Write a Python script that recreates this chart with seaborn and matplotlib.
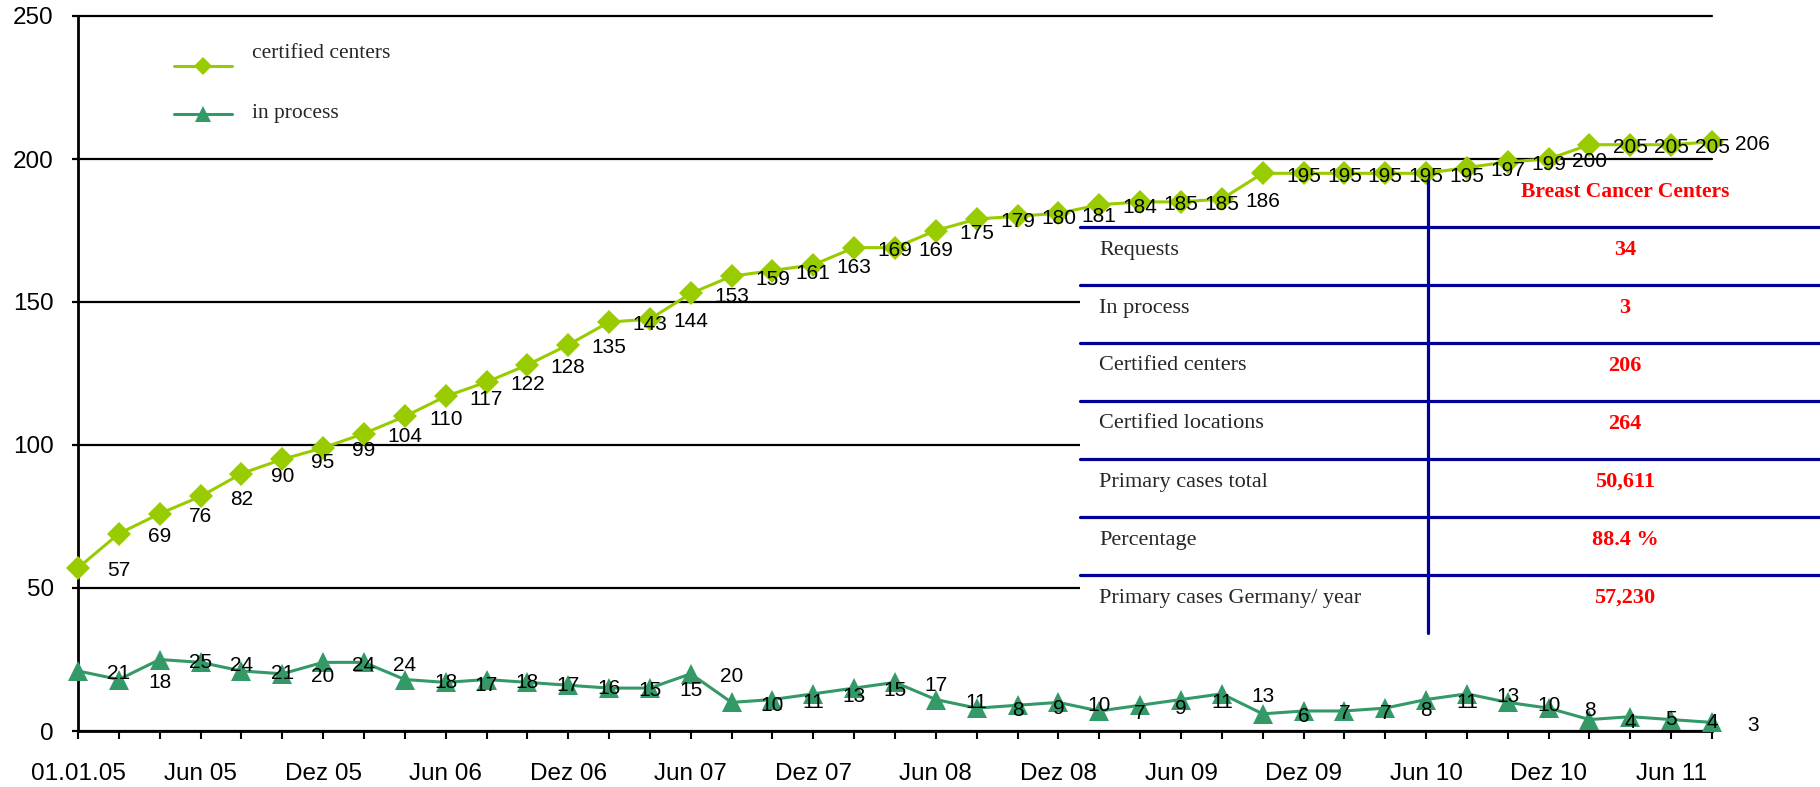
import matplotlib
matplotlib.use("Agg")
import matplotlib.pyplot as plt
from matplotlib.lines import Line2D
from matplotlib.patches import Rectangle
import seaborn as sns
import pandas as pd

# Monthly-ish reporting points, Jan 2005 to Jun 2011
certified = [57, 69, 76, 82, 90, 95, 99, 104, 110, 117, 122, 128, 135, 143, 144,
             153, 159, 161, 163, 169, 169, 175, 179, 180, 181, 184, 185, 185, 186,
             195, 195, 195, 195, 195, 197, 199, 200, 205, 205, 205, 206]
in_process = [21, 18, 25, 24, 21, 20, 24, 24, 18, 17, 18, 17, 16, 15, 15,
              20, 10, 11, 13, 15, 17, 11, 8, 9, 10, 7, 9, 11, 13,
              6, 7, 7, 8, 11, 13, 10, 8, 4, 5, 4, 3]
x_labels = ["01.01.05", "Jun 05", "Dez 05", "Jun 06", "Dez 06", "Jun 07", "Dez 07",
            "Jun 08", "Dez 08", "Jun 09", "Dez 09", "Jun 10", "Dez 10", "Jun 11"]
series_names = ["certified centers", "in process"]

table_header = "Breast Cancer Centers"
table_rows = ["Requests", "In process", "Certified centers", "Certified locations",
              "Primary cases total", "Percentage", "Primary cases Germany/ year"]
table_values = ["34", "3", "206", "264", "50,611", "88.4 %", "57,230"]

GREEN_LIGHT = "#99CC00"
GREEN_DARK = "#339966"
NAVY = "#000099"
W, H = 1820, 787

sns.set_theme(style="white")
plt.rcParams["font.family"] = ["Liberation Sans", "DejaVu Sans"]
SERIF = ["Liberation Serif", "DejaVu Serif"]

fig = plt.figure(figsize=(W / 100, H / 100), dpi=100)


def fx(px):
    return px / W


def fy(py):
    return 1 - py / H


ax = fig.add_axes([fx(78), fy(731), fx(1712) - fx(78), fy(16) - fy(731)])

n = len(certified)
idx = list(range(n))
df = pd.DataFrame({"idx": idx, "certified": certified, "in_process": in_process})

sns.lineplot(data=df, x="idx", y="certified", ax=ax, color=GREEN_LIGHT, lw=2.2,
             marker="D", markersize=12, markeredgewidth=0, clip_on=False, zorder=4)
sns.lineplot(data=df, x="idx", y="in_process", ax=ax, color=GREEN_DARK, lw=2.2,
             marker="^", markersize=14, markeredgewidth=0, clip_on=False, zorder=4)

# value labels sit one step to the right of their point
for series in (certified, in_process):
    for i, v in enumerate(series):
        ax.annotate(str(v), (i + 1, v), xytext=(0, -2), textcoords="offset points",
                    ha="center", va="center", fontsize=15, color="black",
                    annotation_clip=False, zorder=5)

ax.set_xlim(0, n - 1)
ax.set_ylim(0, 250)
ax.set_yticks([0, 50, 100, 150, 200, 250])
ax.set_yticklabels(["0", "50", "100", "150", "200", "250"], fontsize=17.5)
ax.set_xticks(idx)
tick_text = [""] * n
for k, lab in enumerate(x_labels):
    tick_text[3 * k] = lab
ax.set_xticklabels(tick_text, fontsize=17.5)
ax.set_xlabel("")
ax.set_ylabel("")

ax.yaxis.grid(True, color="black", lw=1.6)
ax.xaxis.grid(False)
for gl in ax.get_ygridlines():
    gl.set_clip_on(False)
for side in ["top", "right"]:
    ax.spines[side].set_visible(False)
for side in ["left", "bottom"]:
    ax.spines[side].set_color("black")
    ax.spines[side].set_linewidth(2.0)
ax.tick_params(axis="y", direction="out", length=4.5, width=1.6, pad=13, colors="black", left=True)
ax.tick_params(axis="x", direction="out", length=6, width=1.5, pad=17, colors="black", bottom=True)

# legend drawn in figure pixels
legend_items = [(series_names[0], GREEN_LIGHT, "D", 9, 66, 58),
                (series_names[1], GREEN_DARK, "^", 11, 114, 118)]
for name, col, mk, ms, ly, ty in legend_items:
    fig.add_artist(Line2D([fx(174), fx(232)], [fy(ly), fy(ly)], color=col, lw=2.2,
                          transform=fig.transFigure))
    fig.add_artist(Line2D([fx(203)], [fy(ly)], color=col, marker=mk, markersize=ms,
                          markeredgewidth=0, lw=0, transform=fig.transFigure))
    fig.text(fx(252), fy(ty), name, family=SERIF, fontsize=15.5, ha="left", va="baseline")

# summary table
fig.add_artist(Rectangle((fx(1080), fy(640)), fx(W) - fx(1080), fy(226) - fy(640),
                         facecolor="white", edgecolor="none", transform=fig.transFigure,
                         zorder=1))
row_lines = [227, 285, 343, 401, 459, 517, 575]
for yl in row_lines:
    fig.add_artist(Line2D([fx(1080), fx(W)], [fy(yl), fy(yl)], color=NAVY, lw=2.3,
                          transform=fig.transFigure, zorder=2))
fig.add_artist(Line2D([fx(1428), fx(1428)], [fy(180), fy(633)], color=NAVY, lw=2.3,
                      transform=fig.transFigure, zorder=2))
fig.text(fx(1625), fy(192), table_header, family=SERIF, fontsize=15.5, fontweight="bold",
         color="red", ha="center", va="center")
for k, (lab, val) in enumerate(zip(table_rows, table_values)):
    yc = row_lines[k] + 23
    fig.text(fx(1099), fy(yc), lab, family=SERIF, fontsize=16, ha="left", va="center")
    fig.text(fx(1625), fy(yc), val, family=SERIF, fontsize=16, fontweight="bold",
             color="red", ha="center", va="center")

fig.savefig("out.png", dpi=100, facecolor="white")
